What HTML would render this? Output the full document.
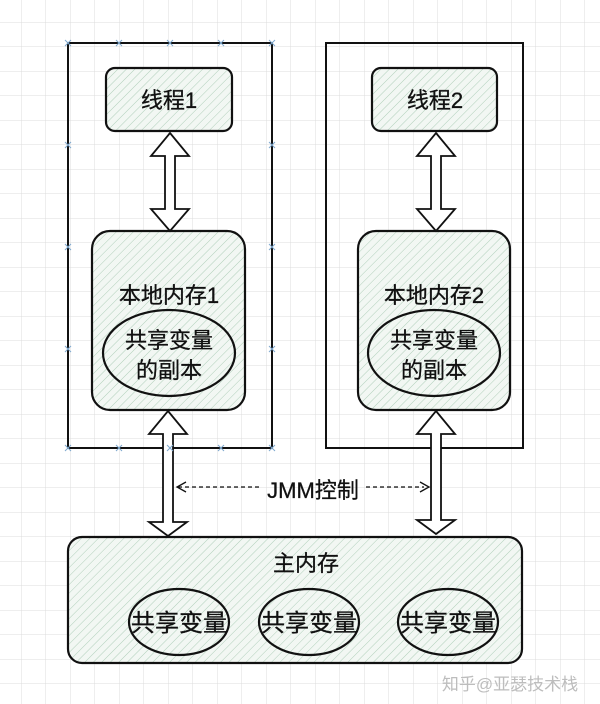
<!DOCTYPE html>
<html><head><meta charset="utf-8"><style>
html,body{margin:0;padding:0;background:#fff;}
svg{display:block;}
text{font-family:"Liberation Sans","Noto Sans CJK SC",sans-serif;fill:#111;stroke:#111;stroke-width:0.3;}
</style></head><body>
<svg width="600" height="704" viewBox="0 0 600 704" xmlns="http://www.w3.org/2000/svg">
<defs>
<pattern id="g" width="24.5" height="24.5" patternUnits="userSpaceOnUse" x="-3" y="-2">
<path d="M24.5 0V24.5H0" fill="none" stroke="#dcdcdc" stroke-width="1"/>
</pattern>
<pattern id="h" width="6" height="6" patternUnits="userSpaceOnUse" patternTransform="rotate(45)">
<rect width="6" height="6" fill="#f2f7f3"/>
<line x1="0" y1="0" x2="0" y2="6" stroke="#b0cfba" stroke-width="1"/>
</pattern>
</defs>
<rect width="600" height="704" fill="#fff"/>
<rect width="600" height="704" fill="url(#g)"/>
<g fill="none" stroke="#111" stroke-width="2">
<rect x="68" y="43" width="204" height="405"/>
<rect x="326" y="43" width="197" height="405"/>
</g>
<g stroke="#111" stroke-width="2.2" fill="url(#h)">
<rect x="106" y="68" width="126" height="63" rx="9"/>
<rect x="372" y="68" width="125" height="63" rx="9"/>
<rect x="92" y="231" width="153" height="179" rx="18"/>
<rect x="358" y="231" width="152" height="179" rx="18"/>
<ellipse cx="169" cy="353" rx="66" ry="43"/>
<ellipse cx="434" cy="353" rx="66" ry="43"/>
<rect x="68" y="537" width="454" height="126" rx="14"/>
<ellipse cx="179" cy="622" rx="50" ry="33"/>
<ellipse cx="309" cy="622" rx="50" ry="33"/>
<ellipse cx="448" cy="622" rx="50" ry="33"/>
</g>
<g fill="#fff" stroke="#111" stroke-width="1.8" stroke-linejoin="miter">
<polygon points="170,133 189,156 175,156 175,209 189,209 170,231 151,209 165,209 165,156 151,156"/>
<polygon points="436,133 455,156 441,156 441,209 455,209 436,231 417,209 431,209 431,156 417,156"/>
<polygon points="168,411 187,434 173,434 173,522 187,522 168,536 149,522 163,522 163,434 149,434"/>
<polygon points="436,411 455,434 441,434 441,520 455,520 436,534 417,520 431,520 431,434 417,434"/>
</g>
<g stroke="#111" stroke-width="1.3" stroke-dasharray="4,3" fill="none">
<line x1="178" y1="487" x2="260" y2="487"/>
<line x1="366" y1="487" x2="424" y2="487"/>
</g>
<g fill="none" stroke="#111" stroke-width="1.3">
<polyline points="186,482 177,487 186,492"/>
<polyline points="420,482 429,487 420,492"/>
</g>
<g stroke="#7fa9cf" stroke-width="1">
<path d="M65 40l6 6M71 40l-6 6M116 40l6 6M122 40l-6 6M167 40l6 6M173 40l-6 6M218 40l6 6M224 40l-6 6M269 40l6 6M275 40l-6 6M65 142l6 6M71 142l-6 6M269 142l6 6M275 142l-6 6M65 244l6 6M71 244l-6 6M269 244l6 6M275 244l-6 6M65 346l6 6M71 346l-6 6M269 346l6 6M275 346l-6 6M65 445l6 6M71 445l-6 6M116 445l6 6M122 445l-6 6M167 445l6 6M173 445l-6 6M218 445l6 6M224 445l-6 6M269 445l6 6M275 445l-6 6"/>
</g>
<g font-size="22" text-anchor="middle">
<text x="169" y="108">线程1</text>
<text x="435" y="108">线程2</text>
<text x="169" y="303">本地内存1</text>
<text x="434" y="303">本地内存2</text>
<text x="169" y="348">共享变量</text>
<text x="169" y="378">的副本</text>
<text x="434" y="348">共享变量</text>
<text x="434" y="378">的副本</text>
<text x="313" y="498">JMM控制</text>
<text x="306" y="571">主内存</text>
<text x="179" y="631" font-size="24">共享变量</text>
<text x="309" y="631" font-size="24">共享变量</text>
<text x="448" y="631" font-size="24">共享变量</text>
</g>
<text x="510" y="690" font-size="17" text-anchor="middle" style="fill:#bdbdbd;stroke:none">知乎@亚瑟技术栈</text>
</svg>
</body></html>
